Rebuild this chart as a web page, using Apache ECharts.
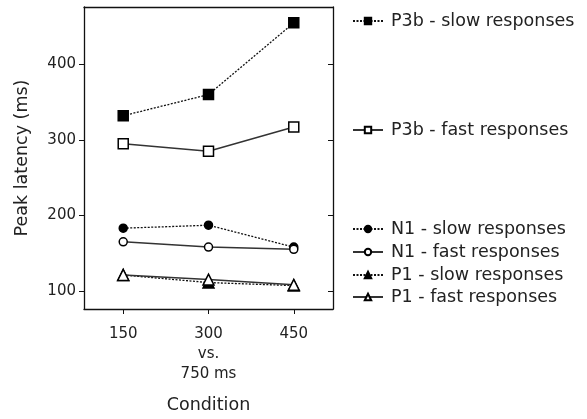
<!DOCTYPE html>
<html>
<head>
<meta charset="utf-8">
<script src="https://cdn.jsdelivr.net/npm/echarts@6/dist/echarts.min.js"></script>
<style>
  html, body { margin: 0; padding: 0; background: #fff; }
  #chart { width: 587px; height: 419px; }
</style>
</head>
<body>
<div id="chart"></div>
<script>
// Interstimulus conditions (ms)
const conditions = [150, 300, 450];
const conditionLabels = ['150', '300\nvs.\n750 ms', '450'];
const yTicks = [100, 200, 300, 400];

// Peak latencies (ms) per component and response speed
const p3bSlow = [332, 360, 455];
const p3bFast = [295, 285, 317];
const n1Slow = [183, 187, 158];
const n1Fast = [165, 158, 155];
const p1Slow = [121, 111, 107];
const p1Fast = [121, 115, 108];

const seriesNames = [
  'P3b - slow responses', 'P3b - fast responses',
  'N1 - slow responses', 'N1 - fast responses',
  'P1 - slow responses', 'P1 - fast responses'
];
const seriesValues = [p3bSlow, p3bFast, n1Slow, n1Fast, p1Slow, p1Fast];
const symbols = ['rect', 'rect', 'circle', 'circle', 'triangle', 'triangle'];
const symbolSizes = [10, 10, 8, 8, 11, 11];
const legendTops = [12, 121, 220, 243, 266, 288];

const FONT = 'DejaVu Sans';
const TEXT = '#222';

function pairs(vals) {
  return conditions.map((c, i) => [c, vals[i]]);
}

const series = seriesValues.map((vals, i) => {
  const slow = i % 2 === 0;
  return {
    name: seriesNames[i],
    type: 'line',
    data: pairs(vals),
    symbol: symbols[i],
    symbolSize: symbolSizes[i],
    z: slow ? 2 : 3,
    lineStyle: {
      color: slow ? '#111' : '#333',
      width: slow ? 1.3 : 1.5,
      type: slow ? [2, 1.5] : 'solid'
    },
    itemStyle: {
      color: slow ? '#000' : '#fff',
      borderColor: '#000',
      borderWidth: 1.5
    },
    emphasis: { disabled: true },
    animation: false
  };
});

const legends = seriesNames.map((name, i) => ({
  data: [name],
  left: 352,
  top: legendTops[i],
  padding: 0,
  orient: 'vertical',
  itemWidth: 30,
  itemHeight: 8,
  itemGap: 0,
  selectedMode: false,
  textStyle: { fontFamily: FONT, fontSize: 17.5, color: TEXT, padding: [0, 0, 0, 3] }
}));

const axisLine = { show: true, lineStyle: { color: '#111', width: 1.3 } };

const option = {
  backgroundColor: '#fff',
  animation: false,
  grid: { left: 84, top: 7, right: 254, bottom: 109, containLabel: false },
  legend: legends,
  xAxis: [
    {
      type: 'value', min: 81, max: 519, position: 'bottom',
      name: 'Condition', nameLocation: 'middle', nameGap: 87,
      nameTextStyle: { fontFamily: FONT, fontSize: 17.5, color: TEXT },
      axisLine: axisLine,
      axisTick: { show: true, length: 5, customValues: conditions, lineStyle: { color: '#111' } },
      axisLabel: {
        customValues: conditions, margin: 15, lineHeight: 20,
        fontFamily: FONT, fontSize: 15, color: TEXT,
        formatter: v => conditionLabels[conditions.indexOf(v)]
      },
      splitLine: { show: false }
    },
    {
      type: 'value', min: 81, max: 519, position: 'top',
      axisLine: axisLine, axisTick: { show: false }, axisLabel: { show: false },
      splitLine: { show: false }
    }
  ],
  yAxis: [
    {
      type: 'value', min: 76, max: 476, position: 'left',
      name: 'Peak latency (ms)', nameLocation: 'middle', nameGap: 53,
      nameTextStyle: { fontFamily: FONT, fontSize: 17.5, color: TEXT },
      axisLine: axisLine,
      axisTick: { show: true, length: 5, customValues: yTicks, lineStyle: { color: '#111' } },
      axisLabel: { customValues: yTicks, margin: 8, fontFamily: FONT, fontSize: 15, color: TEXT },
      splitLine: { show: false }
    },
    {
      type: 'value', min: 76, max: 476, position: 'right',
      axisLine: axisLine,
      axisTick: { show: true, inside: true, length: 5, customValues: yTicks, lineStyle: { color: '#111' } },
      axisLabel: { show: false },
      splitLine: { show: false }
    }
  ],
  series: series
};

const chart = echarts.init(document.getElementById('chart'), null, { renderer: 'canvas' });
chart.setOption(option);
</script>
</body>
</html>
